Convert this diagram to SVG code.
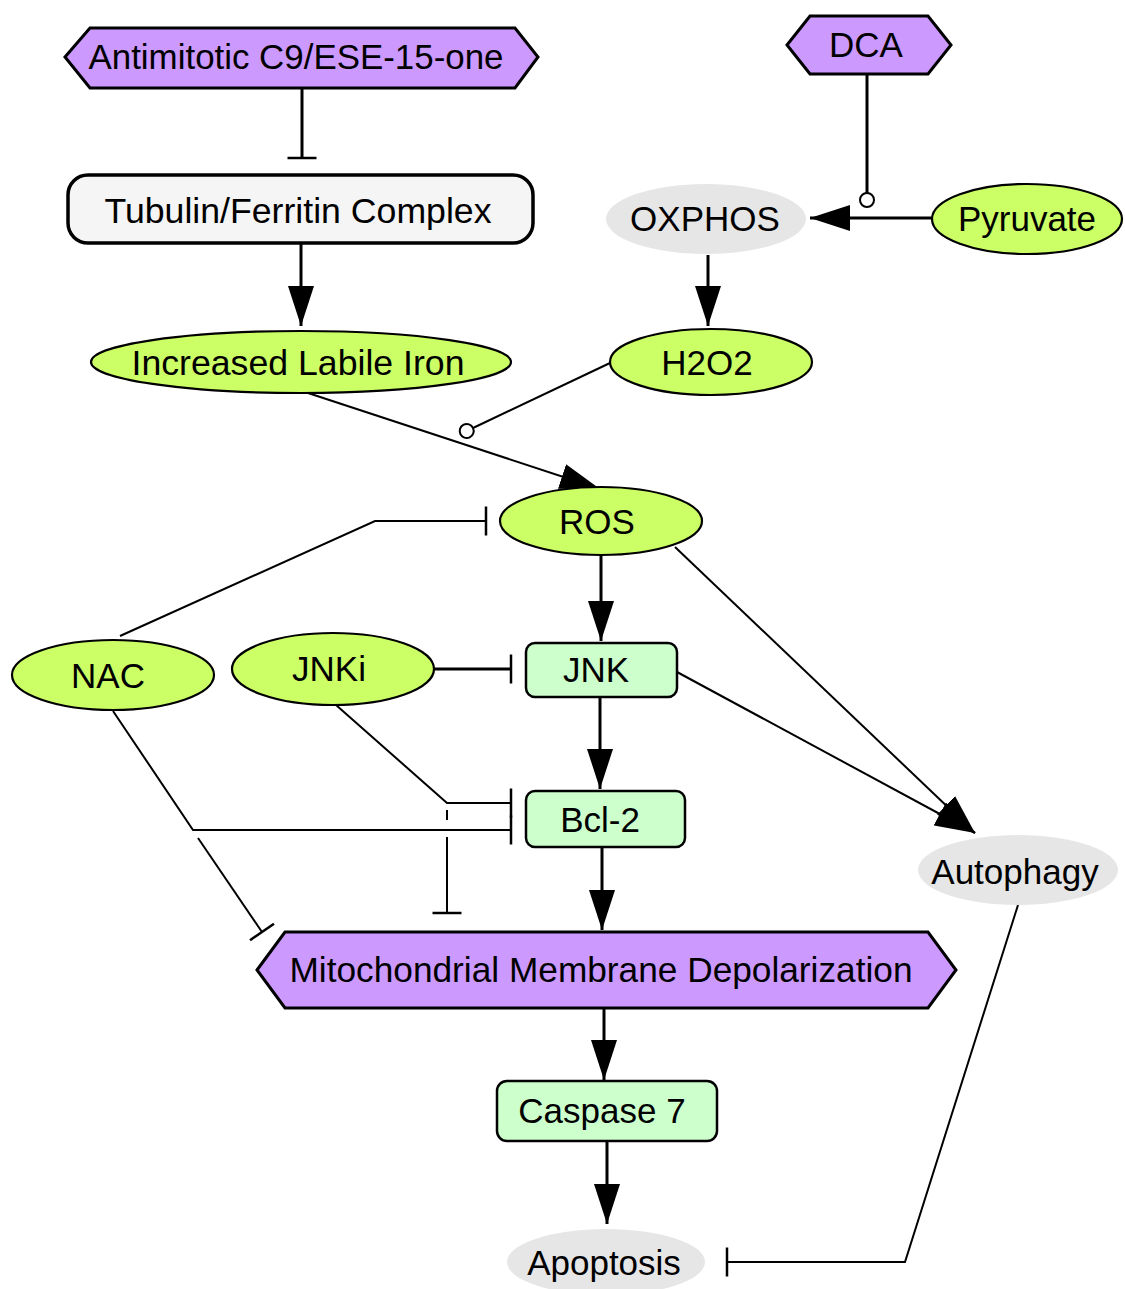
<svg xmlns="http://www.w3.org/2000/svg" width="1125" height="1289" viewBox="0 0 1125 1289">
  <style>
    .lbl { font-family: "Liberation Sans", Arial, sans-serif; font-size: 35px; fill: #000; text-anchor: middle; }
    .drug { fill: #cc99ff; stroke: #000; stroke-width: 3; }
    .mol { fill: #ccff66; stroke: #000; stroke-width: 2.2; }
    .prot { fill: #ccffcc; stroke: #000; stroke-width: 2.5; }
    .proc { fill: #e6e6e6; stroke: none; }
    .cplx { fill: #f5f5f5; stroke: #000; stroke-width: 3.5; }
    .e { fill: none; stroke: #000; stroke-width: 3; }
    .t { fill: none; stroke: #000; stroke-width: 2; }
    .act { marker-end: url(#arrow); }
    .inh { marker-end: url(#bar); }
    .mod { marker-end: url(#dot); }
  </style>
  <defs>
    <marker id="arrow" markerUnits="userSpaceOnUse" viewBox="0 0 40 26" markerWidth="40" markerHeight="26" refX="40" refY="13" orient="auto">
      <path d="M0,0 L40,13 L0,26 z" fill="#000"/>
    </marker>
    <marker id="bar" markerUnits="userSpaceOnUse" viewBox="-2 -15 4 30" markerWidth="4" markerHeight="30" refX="0" refY="0" orient="auto">
      <path d="M0,-14.5 V14.5" stroke="#000" stroke-width="2.5"/>
    </marker>
    <marker id="dot" markerUnits="userSpaceOnUse" viewBox="-1 -9 18 18" markerWidth="18" markerHeight="18" refX="0" refY="0" orient="auto">
      <circle cx="7" cy="0" r="7" fill="#fff" stroke="#000" stroke-width="2"/>
    </marker>
  </defs>

  <rect width="1125" height="1289" fill="#fff"/>

  <!-- connectors -->
  <g id="edges">
    <path class="e inh" d="M302,88 V158"/>
    <path class="e act" d="M301,243 V326"/>
    <path class="e mod" d="M867,74 V193"/>
    <path class="e act" d="M932,218 H810"/>
    <path class="e act" d="M708,255 V326"/>
    <path class="t act" d="M308,393 L600,489"/>
    <path class="t mod" d="M610,363 L473,428"/>
    <path class="t inh" d="M120,636 L375,521 H486"/>
    <path class="e act" d="M601,555 V641"/>
    <path class="t act" d="M675,547 L975,833"/>
    <path class="t act" d="M677,672 L975,833"/>
    <path class="e inh" d="M434,669 H511"/>
    <path class="e act" d="M600,697 V789"/>
    <path class="t inh" d="M336,705 L447,803 H511"/>
    <path class="t inh" d="M113,711 L193,830 H511"/>
    <path class="t inh" d="M198,838 L262,932" stroke-width="1.5"/>
    <path class="t inh" d="M447,803 V913" stroke-dasharray="0 7 10 17 200"/>
    <path class="e act" d="M602,847 V930"/>
    <path class="e act" d="M604,1008 V1080"/>
    <path class="e act" d="M607,1141 V1224"/>
    <path class="t inh" d="M1018,905 L905,1262 H727"/>
  </g>

  <!-- nodes -->
  <g id="antimitotic">
    <polygon class="drug" points="65,57 90,28 515,28 538,57 515,88 90,88"/>
    <text class="lbl" x="296" y="69" textLength="415" lengthAdjust="spacingAndGlyphs">Antimitotic C9/ESE-15-one</text>
  </g>
  <g id="dca">
    <polygon class="drug" points="787,45 810,16 928,16 951,45 928,74 810,74"/>
    <text class="lbl" x="866" y="57">DCA</text>
  </g>
  <g id="tubulin">
    <rect class="cplx" x="68" y="175" width="465" height="68" rx="20"/>
    <text class="lbl" x="298" y="223" textLength="387" lengthAdjust="spacingAndGlyphs">Tubulin/Ferritin Complex</text>
  </g>
  <g id="oxphos">
    <ellipse class="proc" cx="706" cy="219" rx="100" ry="35"/>
    <text class="lbl" x="705" y="231">OXPHOS</text>
  </g>
  <g id="pyruvate">
    <ellipse class="mol" cx="1027" cy="219" rx="95" ry="35"/>
    <text class="lbl" x="1027" y="231">Pyruvate</text>
  </g>
  <g id="labile-iron">
    <ellipse class="mol" cx="301" cy="362" rx="210" ry="31"/>
    <text class="lbl" x="298" y="375" textLength="333" lengthAdjust="spacingAndGlyphs">Increased Labile Iron</text>
  </g>
  <g id="h2o2">
    <ellipse class="mol" cx="711" cy="362" rx="101" ry="33"/>
    <text class="lbl" x="707" y="375">H2O2</text>
  </g>
  <g id="ros">
    <ellipse class="mol" cx="601" cy="521" rx="101" ry="34"/>
    <text class="lbl" x="597" y="534">ROS</text>
  </g>
  <g id="nac">
    <ellipse class="mol" cx="113" cy="675" rx="101" ry="35"/>
    <text class="lbl" x="108" y="688">NAC</text>
  </g>
  <g id="jnki">
    <ellipse class="mol" cx="333" cy="669" rx="101" ry="36"/>
    <text class="lbl" x="329" y="681">JNKi</text>
  </g>
  <g id="jnk">
    <rect class="prot" x="526" y="643" width="151" height="54" rx="9"/>
    <text class="lbl" x="596" y="682">JNK</text>
  </g>
  <g id="bcl2">
    <rect class="prot" x="526" y="791" width="159" height="56" rx="9"/>
    <text class="lbl" x="600" y="832">Bcl-2</text>
  </g>
  <g id="autophagy">
    <ellipse class="proc" cx="1018" cy="870" rx="100" ry="35"/>
    <text class="lbl" x="1015" y="884">Autophagy</text>
  </g>
  <g id="mito-depol">
    <polygon class="drug" points="257,970 285,932 928,932 956,970 928,1008 285,1008"/>
    <text class="lbl" x="601" y="982" textLength="623" lengthAdjust="spacingAndGlyphs">Mitochondrial Membrane Depolarization</text>
  </g>
  <g id="caspase7">
    <rect class="prot" x="497" y="1081" width="220" height="60" rx="10"/>
    <text class="lbl" x="602" y="1123">Caspase 7</text>
  </g>
  <g id="apoptosis">
    <ellipse class="proc" cx="606" cy="1262" rx="99" ry="33"/>
    <text class="lbl" x="604" y="1275">Apoptosis</text>
  </g>
</svg>
